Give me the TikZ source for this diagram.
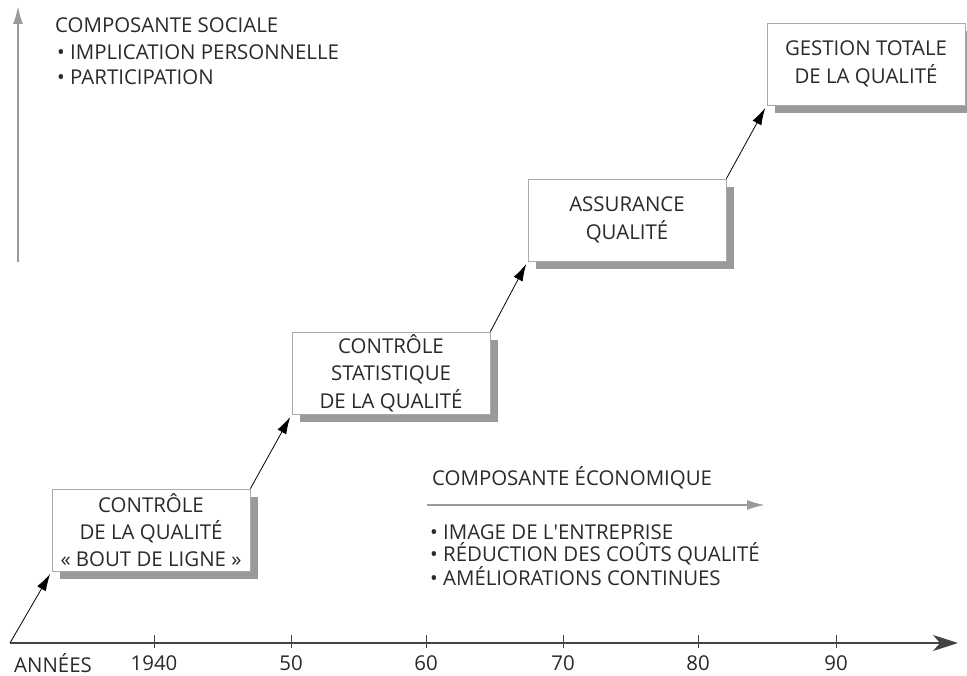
\documentclass[tikz,border=0pt]{standalone}
\usepackage{fontspec}
\setmainfont{Open Sans}
\usetikzlibrary{positioning,arrows.meta,shadows}
\definecolor{txtgray}{HTML}{2A2A2A}
\definecolor{linegray}{HTML}{9A9A9A}
\definecolor{rimgray}{HTML}{AAAAAA}
\definecolor{axisgray}{HTML}{444444}

\begin{document}
\begin{tikzpicture}[x=1bp,y=-1bp,
  every node/.style={text=txtgray,font=\fontsize{20.5}{27.5}\selectfont},
  stage/.style={draw=rimgray,line width=0.8bp,fill=white,minimum width=198bp,
    minimum height=82bp,align=center,inner sep=0pt,
    general shadow={fill=linegray,shadow xshift=8bp,shadow yshift=-8bp}},
  link/.style={black,line width=0.8bp,-{Latex[length=17bp,width=10bp]},shorten >=3bp},
  trend/.style={linegray,line width=2bp,-{Latex[length=18bp,width=10bp]}},
  item/.style={anchor=west,inner sep=0pt}]
\useasboundingbox (0,0) rectangle (967,676);

% time axis
\coordinate (o) at (10,643);
\coordinate (tip) at (958,643);
\draw[axisgray,line width=1.2bp,-{Stealth[length=25bp,width=16bp,inset=7bp]}] (o) -- (tip);
\node (ann) at (53,663) {ANNÉES};
\foreach \x/\lab/\nm in {154/1940/a,291/50/b,426/60/c,563/70/d,698/80/e,836/90/f}{
  \draw[axisgray,line width=1bp] (\x,635) -- (\x,648);
  \node (yr\nm) at (\x,663) {\lab};
}

% the four stages
\node[stage] (cq) at (151,530) {CONTRÔLE\\DE LA QUALITÉ\\« BOUT DE LIGNE »};
\node[stage] (cs) at (391,373) {CONTRÔLE\\STATISTIQUE\\DE LA QUALITÉ};
\node[stage] (aq) at (627,220) {ASSURANCE\\QUALITÉ};
\node[stage] (gt) at (866,64) {GESTION TOTALE\\DE LA QUALITÉ};

\draw[link] (o) -- (cq.south west);
\draw[link] (cq.north east) -- (cs.south west);
\draw[link] (cs.north east) -- (aq.south west);
\draw[link] (aq.north east) -- (gt.south west);

% social component
\coordinate (sb) at (18,262);
\coordinate (st) at (18,6);
\draw[trend] (sb) -- (st);
\node[item] (soc) at (55,25) {COMPOSANTE SOCIALE};
\node[item] (imp) at (57,52) {\textbullet\ IMPLICATION PERSONNELLE};
\node[item] (par) at (57,77) {\textbullet\ PARTICIPATION};

% economic component
\node[item] (eco) at (432,478) {COMPOSANTE ÉCONOMIQUE};
\coordinate (ea) at (427,505);
\coordinate (eb) at (765,505);
\draw[trend] (ea) -- (eb);
\node[item] (img) at (430,532) {\textbullet\ IMAGE DE L\textquotesingle ENTREPRISE};
\node[item] (red) at (430,554) {\textbullet\ RÉDUCTION DES COÛTS QUALITÉ};
\node[item] (ame) at (430,576) {\textbullet\ AMÉLIORATIONS CONTINUES};
\end{tikzpicture}
\end{document}
